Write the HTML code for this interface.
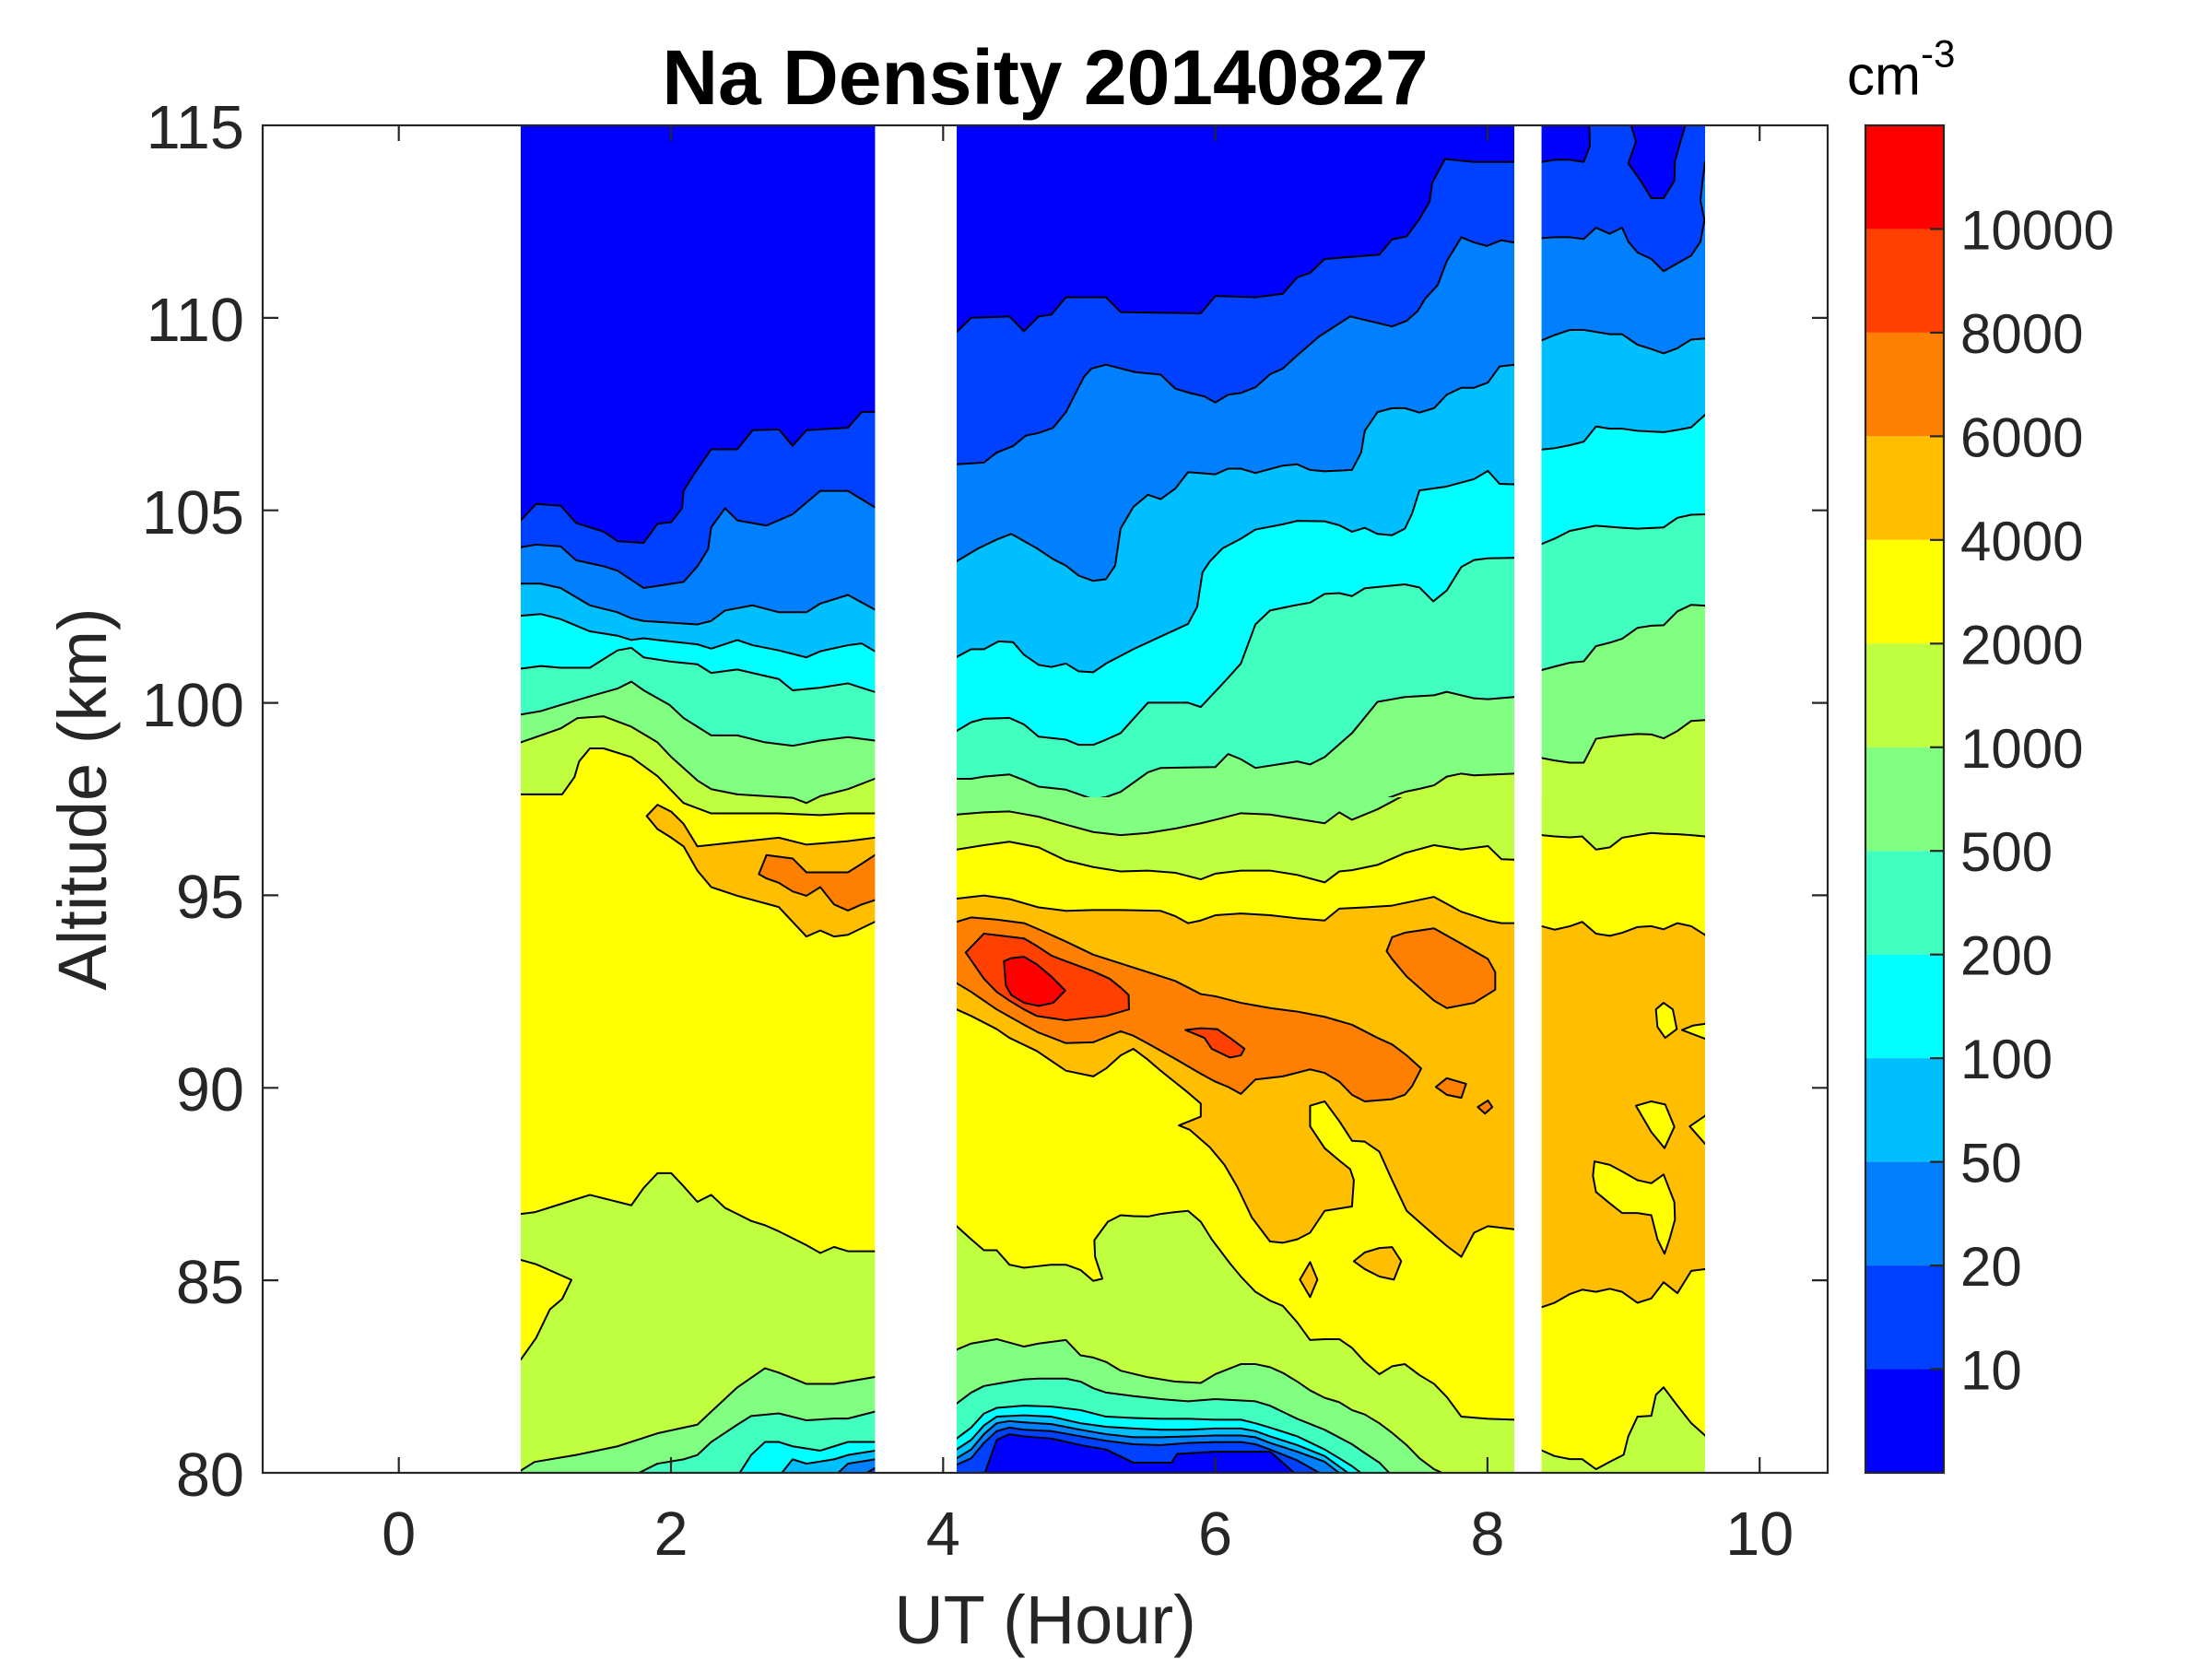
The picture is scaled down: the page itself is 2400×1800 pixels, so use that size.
<!DOCTYPE html>
<html><head><meta charset="utf-8">
<style>
html,body{margin:0;padding:0;background:#fff;width:2400px;height:1800px;overflow:hidden;}
svg{display:block;overflow:hidden;}
text{font-family:"Liberation Sans",Arial,Helvetica,sans-serif;}
</style></head>
<body>
<svg id="s" xmlns="http://www.w3.org/2000/svg" width="2400" height="1800" viewBox="0 0 2400 1800">
<rect width="2400" height="1800" fill="#fff"/>
<defs>
<clipPath id="cA"><rect x="565" y="136" width="384.3" height="1462"/></clipPath>
<clipPath id="cB1"><rect x="1038" y="136" width="605" height="730"/></clipPath>
<clipPath id="cB2"><rect x="1038" y="865" width="605" height="733"/></clipPath>
<clipPath id="cC1"><rect x="1672.7" y="136" width="177.3" height="730"/></clipPath>
<clipPath id="cC2"><rect x="1672.7" y="865" width="177.3" height="733"/></clipPath>
</defs>
<g id="data"></g>

<!-- axes box -->
<rect x="285" y="136" width="1698" height="1462" fill="none" stroke="#262626" stroke-width="2.2"/>
<g stroke="#262626" stroke-width="2.2">
<line x1="432.7" y1="1598" x2="432.7" y2="1581"/><line x1="728" y1="1598" x2="728" y2="1581"/><line x1="1023.3" y1="1598" x2="1023.3" y2="1581"/><line x1="1318.6" y1="1598" x2="1318.6" y2="1581"/><line x1="1613.9" y1="1598" x2="1613.9" y2="1581"/><line x1="1909.2" y1="1598" x2="1909.2" y2="1581"/>
<line x1="432.7" y1="136" x2="432.7" y2="153"/><line x1="728" y1="136" x2="728" y2="153"/><line x1="1023.3" y1="136" x2="1023.3" y2="153"/><line x1="1318.6" y1="136" x2="1318.6" y2="153"/><line x1="1613.9" y1="136" x2="1613.9" y2="153"/><line x1="1909.2" y1="136" x2="1909.2" y2="153"/>
<line x1="285" y1="1389.1" x2="302" y2="1389.1"/><line x1="285" y1="1180.3" x2="302" y2="1180.3"/><line x1="285" y1="971.4" x2="302" y2="971.4"/><line x1="285" y1="762.6" x2="302" y2="762.6"/><line x1="285" y1="553.7" x2="302" y2="553.7"/><line x1="285" y1="344.9" x2="302" y2="344.9"/>
<line x1="1983" y1="1389.1" x2="1966" y2="1389.1"/><line x1="1983" y1="1180.3" x2="1966" y2="1180.3"/><line x1="1983" y1="971.4" x2="1966" y2="971.4"/><line x1="1983" y1="762.6" x2="1966" y2="762.6"/><line x1="1983" y1="553.7" x2="1966" y2="553.7"/><line x1="1983" y1="344.9" x2="1966" y2="344.9"/>
</g>

<!-- tick labels -->
<g font-size="66.7" fill="#262626" text-anchor="end">
<text x="265" y="1623">80</text>
<text x="265" y="1414">85</text>
<text x="265" y="1205">90</text>
<text x="265" y="996">95</text>
<text x="265" y="788">100</text>
<text x="265" y="579">105</text>
<text x="265" y="370">110</text>
<text x="265" y="161">115</text>
</g>
<g font-size="66.7" fill="#262626" text-anchor="middle">
<text x="432.7" y="1687">0</text>
<text x="728" y="1687">2</text>
<text x="1023.3" y="1687">4</text>
<text x="1318.6" y="1687">6</text>
<text x="1613.9" y="1687">8</text>
<text x="1909.2" y="1687">10</text>
</g>
<text x="1134" y="1783" font-size="74" fill="#262626" text-anchor="middle">UT (Hour)</text>
<text transform="translate(115,867) rotate(-90)" font-size="74" fill="#262626" text-anchor="middle">Altitude (km)</text>
<text x="1134" y="113" font-size="84" font-weight="bold" fill="#000" text-anchor="middle">Na Density 20140827</text>

<!-- colorbar -->
<g>
<rect x="2024" y="136" width="85" height="112.46" fill="#FF0000"/>
<rect x="2024" y="248.46" width="85" height="112.46" fill="#FF4000"/>
<rect x="2024" y="360.92" width="85" height="112.46" fill="#FF8000"/>
<rect x="2024" y="473.38" width="85" height="112.47" fill="#FFBF00"/>
<rect x="2024" y="585.85" width="85" height="112.46" fill="#FFFF00"/>
<rect x="2024" y="698.31" width="85" height="112.46" fill="#BFFF40"/>
<rect x="2024" y="810.77" width="85" height="112.46" fill="#80FF80"/>
<rect x="2024" y="923.23" width="85" height="112.46" fill="#40FFBF"/>
<rect x="2024" y="1035.69" width="85" height="112.46" fill="#00FFFF"/>
<rect x="2024" y="1148.15" width="85" height="112.47" fill="#00BFFF"/>
<rect x="2024" y="1260.62" width="85" height="112.46" fill="#0080FF"/>
<rect x="2024" y="1373.08" width="85" height="112.46" fill="#0040FF"/>
<rect x="2024" y="1485.54" width="85" height="112.46" fill="#0000FF"/>
<rect x="2024" y="136" width="85" height="1462" fill="none" stroke="#262626" stroke-width="2.2"/>
<g stroke="#262626" stroke-width="2.2">
<line x1="2109" y1="248.46" x2="2094" y2="248.46"/><line x1="2109" y1="360.92" x2="2094" y2="360.92"/><line x1="2109" y1="473.38" x2="2094" y2="473.38"/><line x1="2109" y1="585.85" x2="2094" y2="585.85"/><line x1="2109" y1="698.31" x2="2094" y2="698.31"/><line x1="2109" y1="810.77" x2="2094" y2="810.77"/><line x1="2109" y1="923.23" x2="2094" y2="923.23"/><line x1="2109" y1="1035.69" x2="2094" y2="1035.69"/><line x1="2109" y1="1148.15" x2="2094" y2="1148.15"/><line x1="2109" y1="1260.62" x2="2094" y2="1260.62"/><line x1="2109" y1="1373.08" x2="2094" y2="1373.08"/><line x1="2109" y1="1485.54" x2="2094" y2="1485.54"/>
</g>
<g font-size="60" fill="#262626">
<text x="2127" y="270.5">10000</text>
<text x="2127" y="383">8000</text>
<text x="2127" y="495.4">6000</text>
<text x="2127" y="607.9">4000</text>
<text x="2127" y="720.3">2000</text>
<text x="2127" y="832.8">1000</text>
<text x="2127" y="945.2">500</text>
<text x="2127" y="1057.7">200</text>
<text x="2127" y="1170.2">100</text>
<text x="2127" y="1282.6">50</text>
<text x="2127" y="1395.1">20</text>
<text x="2127" y="1507.5">10</text>
</g>
<text x="2004" y="102.6" font-size="60" fill="#000">cm<tspan font-size="42" dy="-30">-3</tspan></text>
</g>
</svg>

<script>
(function(){
const C=['#0000FF','#0040FF','#0080FF','#00BFFF','#00FFFF','#40FFBF','#80FF80','#BFFF40','#FFFF00','#FFBF00','#FF8000','#FF4000','#FF0000'];
const NS='http://www.w3.org/2000/svg';
const root=document.getElementById('data');
function P(a){return a.map((p,i)=>(i?'L':'M')+p[0].toFixed(2)+' '+p[1].toFixed(2)).join(' ');}
function draw(G){
  const TOP=(120-G.ty)/G.sy, BOT=(1620-G.ty)/G.sy;
  const cl=v=>Math.max(TOP,Math.min(BOT,v));
  const outer=document.createElementNS(NS,'g');
  outer.setAttribute('clip-path','url(#'+G.clip+')');
  const bg=document.createElementNS(NS,'rect');
  bg.setAttribute('x',1000);bg.setAttribute('y',130);bg.setAttribute('width',10);bg.setAttribute('height',10);
  const bgr=document.createElementNS(NS,'rect');
  bgr.setAttribute('x',G.cx);bgr.setAttribute('y',G.cy);bgr.setAttribute('width',G.cw);bgr.setAttribute('height',G.ch);
  bgr.setAttribute('fill',C[G.base]);
  outer.appendChild(bgr);
  const g=document.createElementNS(NS,'g');
  g.setAttribute('transform','translate('+G.tx+' '+G.ty+') scale('+G.sx+' '+G.sy+')');
  outer.appendChild(g);
  const strokes=[];
  for(const L of G.L){
    const t=L[0], c=L[1];
    let pts=L[2].map(p=>[p[0],cl(p[1])]);
    let fd, sd;
    if(t==='c'){ fd=P(pts)+' Z'; sd=fd; }
    else{
      const f0=pts[0];
      if(f0[0]<=G.l+8) pts.unshift([G.l-30,f0[1]]);
      else if(f0[0]>=G.r-8) pts.unshift([G.r+30,f0[1]]);
      const lz=pts[pts.length-1];
      if(lz[0]<=G.l+8) pts.push([G.l-30,lz[1]]);
      else if(lz[0]>=G.r-8) pts.push([G.r+30,lz[1]]);
      const a=pts[0], b=pts[pts.length-1];
      if(t==='t') fd=P([[a[0],TOP]].concat(pts,[[b[0],TOP]]))+' Z';
      else if(t==='b') fd=P([[a[0],BOT]].concat(pts,[[b[0],BOT]]))+' Z';
      else fd=P(pts)+' Z';
      sd=P(pts);
    }
    const f=document.createElementNS(NS,'path');
    f.setAttribute('d',fd); f.setAttribute('fill',C[c]);
    g.appendChild(f);
    strokes.push(sd);
  }
  const s=document.createElementNS(NS,'path');
  s.setAttribute('d',strokes.join(' '));
  s.setAttribute('fill','none'); s.setAttribute('stroke','#000');
  s.setAttribute('stroke-width','2'); s.setAttribute('vector-effect','non-scaling-stroke');
  s.setAttribute('stroke-linejoin','round');
  g.appendChild(s);
  root.appendChild(outer);
}

/* Segment A */
draw({clip:'cA',cx:565,cy:136,cw:384.3,ch:1462,tx:560,ty:130,sx:0.333333,sy:0.940689,l:15,r:1168,base:8,L:[
['t',7,[[15,778],[150,778],[190,758],[205,740],[240,725],[285,725],[375,735],[460,757],[545,788],[635,800],[720,800],[855,800],[990,802],[1080,800],[1168,800]]],
['t',6,[[15,718],[80,710],[145,702],[200,690],[285,688],[375,700],[460,718],[505,735],[590,762],[635,772],[720,778],[810,780],[900,782],[945,788],[990,780],[1080,772],[1168,760]]],
['t',5,[[15,686],[80,682],[145,675],[240,665],[330,656],[375,648],[415,658],[500,675],[545,690],[635,710],[720,710],[810,718],[900,722],[990,716],[1080,712],[1168,716]]],
['t',4,[[15,633],[80,630],[145,632],[240,632],[330,612],[375,609],[415,620],[505,625],[590,628],[635,638],[720,634],[855,645],[900,658],[990,655],[1080,650],[1168,660]]],
['t',3,[[15,572],[80,570],[145,576],[240,590],[330,595],[375,600],[415,598],[460,600],[590,605],[635,610],[720,600],[770,606],[855,612],[945,620],[990,613],[1080,606],[1125,604],[1168,613]]],
['t',2,[[15,535],[80,535],[145,540],[240,560],[330,568],[375,575],[415,578],[590,582],[635,578],[680,566],[770,560],[855,568],[945,568],[990,558],[1080,548],[1168,565]]],
['t',1,[[15,493],[65,490],[145,492],[195,508],[285,515],[330,520],[415,540],[545,533],[590,515],[625,495],[635,470],[680,448],[720,462],[815,468],[900,455],[990,428],[1080,428],[1168,447]]],
['t',0,[[15,462],[65,443],[145,445],[195,465],[285,475],[330,486],[415,488],[460,466],[505,464],[540,448],[545,428],[580,408],[635,380],[720,380],[770,358],[855,357],[900,376],[945,358],[1080,355],[1125,337],[1168,337]]],
['e',9,[[1168,925],[1080,940],[1035,942],[990,935],[945,942],[900,925],[855,908],[720,895],[635,885],[590,866],[545,838],[505,828],[460,818],[425,803],[460,790],[505,798],[545,812],[590,838],[720,833],[855,828],[945,836],[1080,832],[1168,828]]],
['e',10,[[1168,900],[1125,905],[1080,912],[1035,905],[990,885],[945,895],[900,890],[855,880],[815,875],[790,870],[815,848],[900,852],[945,868],[1080,868],[1125,858],[1168,848]]],
['b',7,[[15,1262],[60,1260],[150,1250],[240,1240],[375,1252],[415,1232],[460,1215],[505,1215],[545,1230],[590,1248],[635,1240],[680,1255],[720,1262],[765,1270],[810,1275],[855,1282],[945,1298],[990,1307],[1035,1300],[1080,1305],[1168,1305]]],
['e',8,[[15,1315],[65,1320],[180,1338],[150,1360],[110,1372],[65,1405],[15,1430]]],
['b',6,[[15,1558],[60,1548],[195,1540],[330,1530],[460,1515],[590,1505],[635,1490],[720,1462],[810,1440],[855,1445],[945,1458],[1035,1458],[1168,1450]]],
['b',5,[[375,1565],[460,1550],[545,1545],[590,1540],[635,1525],[720,1505],[765,1495],[855,1492],[945,1500],[1035,1498],[1080,1498],[1168,1490]]],
['b',4,[[720,1565],[765,1540],[810,1525],[855,1525],[900,1530],[990,1535],[1035,1530],[1080,1525],[1168,1525]]],
['b',3,[[855,1565],[900,1545],[945,1550],[1035,1545],[1080,1540],[1168,1535]]],
['b',2,[[1035,1565],[1080,1550],[1168,1545]]],
['b',1,[[1120,1565],[1168,1555]]]
]});

/* Segment B upper */
draw({clip:'cB1',cx:1038,cy:136,cw:605,ch:730,tx:1030,ty:130,sx:0.395408,sy:0.471939,l:20,r:1550,base:7,L:[
['t',6,[[20,1750],[1100,1750],[1175,1568],[1250,1545],[1290,1538],[1330,1530],[1365,1510],[1405,1503],[1440,1507],[1550,1503]]],
['t',5,[[20,1515],[60,1515],[95,1510],[165,1505],[205,1518],[245,1533],[320,1540],[395,1562],[430,1557],[470,1545],[545,1500],[580,1490],[730,1488],[765,1458],[800,1470],[840,1490],[955,1475],[990,1482],[1030,1465],[1105,1410],[1175,1338],[1250,1327],[1330,1323],[1365,1315],[1440,1330],[1478,1332],[1550,1327]]],
['t',4,[[20,1405],[60,1385],[95,1377],[165,1375],[205,1390],[245,1418],[320,1425],[355,1437],[395,1437],[430,1425],[470,1410],[545,1340],[655,1340],[690,1350],[755,1292],[800,1250],[840,1160],[880,1128],[955,1115],[990,1110],[1030,1090],[1070,1088],[1105,1095],[1140,1077],[1250,1068],[1290,1075],[1328,1107],[1365,1082],[1405,1028],[1440,1012],[1478,1008],[1550,1007]]],
['t',3,[[20,1235],[60,1217],[95,1217],[135,1199],[175,1201],[205,1230],[245,1253],[280,1258],[320,1250],[355,1268],[395,1270],[430,1250],[505,1217],[655,1159],[680,1120],[695,1040],[715,1015],[750,985],[800,963],[840,942],[915,930],[955,922],[1030,923],[1070,932],[1105,947],[1140,938],[1175,952],[1215,955],[1250,940],[1270,905],[1290,852],[1365,843],[1440,826],[1478,807],[1510,837],[1550,838]]],
['t',2,[[20,1015],[80,985],[130,965],[170,952],[240,985],[285,1010],[320,1025],[355,1048],[395,1060],[430,1056],[455,1025],[470,940],[505,890],[545,862],[580,872],[620,848],[655,810],[730,815],[765,802],[800,802],[840,812],[915,795],[955,792],[990,805],[1030,808],[1105,805],[1130,765],[1140,715],[1175,672],[1215,663],[1250,663],[1290,673],[1330,663],[1365,632],[1405,616],[1440,616],[1478,604],[1510,567],[1550,563]]],
['t',1,[[20,792],[95,788],[130,765],[175,750],[210,726],[245,720],[285,708],[320,672],[370,590],[390,572],[430,563],[510,580],[580,586],[620,618],[660,628],[700,636],[730,650],[765,632],[800,628],[840,615],[880,585],[915,572],[950,545],[1015,498],[1100,452],[1150,462],[1215,475],[1255,462],[1285,440],[1305,412],[1340,380],[1365,325],[1405,270],[1440,282],[1475,290],[1515,277],[1550,282]]],
['t',0,[[20,488],[60,455],[165,452],[205,486],[245,452],[280,448],[320,408],[430,408],[470,442],[690,445],[730,405],[840,408],[915,400],[955,362],[990,352],[1030,320],[1180,310],[1215,275],[1255,268],[1290,228],[1318,188],[1325,145],[1360,90],[1440,97],[1550,97]]]
]});

/* Segment B lower */
draw({clip:'cB2',cx:1038,cy:865,cw:605,ch:733,tx:1030,ty:860,sx:0.395408,sy:0.475128,l:20,r:1550,base:6,L:[
['b',7,[[20,50],[95,45],[165,43],[245,55],[320,73],[395,90],[470,97],[545,92],[620,82],[690,70],[730,62],[800,47],[880,50],[955,60],[1030,70],[1070,45],[1105,62],[1175,38],[1250,5],[1300,-30],[1550,-30]]],
['b',8,[[20,130],[95,120],[165,112],[245,125],[320,155],[395,170],[470,180],[545,178],[620,183],[690,198],[730,185],[800,178],[880,178],[955,188],[1030,205],[1070,180],[1105,177],[1175,165],[1250,138],[1330,120],[1405,130],[1478,122],[1515,152],[1550,153]]],
['b',9,[[20,242],[95,235],[165,243],[245,262],[320,270],[395,268],[470,268],[580,270],[620,282],[655,298],[690,292],[730,280],[800,276],[880,280],[955,287],[1030,292],[1070,265],[1140,262],[1215,258],[1330,238],[1405,272],[1478,292],[1515,298],[1550,298]]],
['b',8,[[20,495],[60,510],[130,540],[165,560],[240,590],[320,635],[395,648],[430,630],[470,600],[505,585],[545,610],[580,635],[655,685],[690,710],[690,740],[630,760],[660,770],[715,810],[755,850],[790,900],[830,970],[880,1025],[915,1028],[955,1020],[990,1005],[1030,955],[1105,945],[1110,885],[1100,860],[1070,840],[1030,812],[990,762],[990,715],[1030,705],[1070,750],[1105,795],[1140,797],[1180,820],[1215,885],[1255,955],[1330,1010],[1365,1035],[1405,1060],[1440,1005],[1478,990],[1550,997]]],
['e',10,[[20,295],[60,285],[130,290],[205,298],[245,312],[320,340],[395,370],[470,390],[545,410],[620,430],[690,460],[730,465],[800,480],[880,492],[955,500],[1030,512],[1105,530],[1175,560],[1215,575],[1255,600],[1295,630],[1270,670],[1250,690],[1215,700],[1140,705],[1105,690],[1070,660],[1030,640],[990,632],[915,648],[840,655],[800,688],[765,672],[730,660],[690,642],[620,608],[545,573],[505,555],[470,545],[395,570],[320,572],[245,548],[205,530],[130,495],[60,455],[20,435]]],
['c',10,[[1215,330],[1250,320],[1330,310],[1405,345],[1478,380],[1498,410],[1498,450],[1440,480],[1365,492],[1330,475],[1255,420],[1215,380],[1200,362]]],
['c',10,[[1335,672],[1365,652],[1418,665],[1405,697],[1365,690]]],
['c',10,[[1450,718],[1478,703],[1490,718],[1470,733]]],
['c',11,[[45,365],[95,322],[205,333],[240,350],[280,372],[320,385],[395,408],[440,425],[470,445],[492,462],[493,495],[430,510],[320,520],[240,510],[205,495],[165,475],[130,455],[95,425]]],
['c',11,[[648,542],[690,538],[735,540],[770,560],[810,585],[800,600],[770,605],[720,585],[700,560]]],
['c',12,[[150,385],[170,378],[205,375],[240,392],[280,420],[318,452],[285,480],[245,487],[205,480],[170,462],[155,440]]],
['c',9,[[1110,1070],[1140,1050],[1180,1040],[1215,1038],[1240,1070],[1220,1112],[1180,1105],[1140,1088]]],
['c',9,[[990,1072],[1010,1112],[990,1152],[962,1112]]],
['b',7,[[20,990],[60,1020],[95,1045],[130,1045],[165,1078],[205,1085],[280,1078],[320,1078],[360,1090],[395,1115],[420,1110],[400,1060],[398,1022],[435,980],[470,965],[505,967],[545,968],[580,962],[620,958],[655,955],[690,980],[720,1020],[770,1075],[800,1105],[840,1140],[880,1160],[915,1172],[955,1210],[990,1250],[1030,1248],[1070,1248],[1105,1268],[1140,1300],[1180,1328],[1215,1310],[1250,1305],[1290,1330],[1330,1350],[1365,1380],[1405,1425],[1478,1430],[1550,1432]]],
['b',6,[[20,1272],[60,1258],[130,1248],[205,1265],[245,1258],[320,1250],[360,1285],[395,1290],[430,1300],[470,1320],[545,1335],[620,1345],[690,1348],[730,1328],[800,1305],[840,1305],[880,1312],[915,1325],[955,1345],[990,1365],[1030,1382],[1070,1392],[1105,1410],[1140,1420],[1180,1440],[1215,1462],[1255,1490],[1290,1520],[1330,1545],[1370,1560]]],
['b',5,[[20,1395],[60,1370],[95,1355],[165,1345],[205,1340],[245,1338],[320,1338],[360,1345],[395,1360],[430,1370],[505,1378],[580,1385],[655,1390],[730,1385],[800,1388],[840,1390],[880,1400],[955,1430],[1030,1455],[1105,1488],[1140,1508],[1180,1530],[1215,1560]]],
['b',4,[[20,1475],[60,1450],[95,1418],[130,1405],[205,1400],[280,1402],[360,1410],[430,1425],[505,1428],[580,1430],[655,1430],[730,1432],[800,1432],[840,1440],[880,1450],[955,1470],[1030,1500],[1070,1520],[1105,1538],[1140,1560]]],
['b',3,[[20,1500],[60,1478],[95,1445],[130,1425],[205,1422],[280,1425],[360,1440],[430,1448],[505,1452],[580,1455],[655,1455],[730,1452],[800,1452],[840,1458],[880,1470],[955,1490],[1030,1515],[1105,1560]]],
['b',2,[[20,1520],[60,1500],[95,1465],[130,1440],[165,1435],[205,1438],[280,1442],[360,1455],[430,1465],[505,1472],[580,1472],[655,1470],[730,1468],[800,1468],[840,1472],[880,1485],[955,1505],[1030,1528],[1080,1560]]],
['b',1,[[20,1535],[60,1520],[95,1485],[130,1458],[165,1450],[205,1455],[280,1458],[360,1470],[430,1480],[505,1488],[580,1490],[655,1485],[730,1483],[800,1483],[840,1488],[880,1500],[955,1525],[1030,1560]]],
['b',0,[[95,1560],[130,1478],[165,1465],[205,1470],[280,1475],[360,1490],[430,1500],[505,1530],[610,1530],[625,1510],[730,1505],[800,1505],[880,1505],[915,1530],[955,1560]]]
]});

/* Segment C upper */
draw({clip:'cC1',cx:1672.7,cy:136,cw:177.3,ch:730,tx:1660,ty:130,sx:0.333333,sy:0.471939,l:38,r:570,base:7,L:[
['t',6,[[38,1467],[80,1473],[130,1478],[175,1478],[215,1423],[260,1418],[300,1415],[350,1412],[395,1413],[435,1422],[480,1405],[525,1382],[570,1380]]],
['t',5,[[38,1265],[80,1257],[130,1248],[175,1245],[215,1210],[260,1202],[300,1193],[350,1168],[395,1163],[435,1162],[480,1130],[525,1115],[570,1117]]],
['t',4,[[38,975],[80,963],[130,945],[215,933],[300,938],[350,940],[435,937],[480,915],[525,908],[570,907]]],
['t',3,[[38,758],[80,755],[130,748],[175,740],[215,705],[260,710],[300,710],[350,715],[435,718],[480,713],[525,707],[570,678]]],
['t',2,[[38,507],[80,495],[130,483],[175,483],[260,493],[300,493],[350,517],[395,527],[435,537],[480,525],[525,505],[570,503]]],
['t',1,[[38,272],[80,270],[130,270],[175,274],[215,248],[260,262],[300,248],[320,280],[350,305],[395,320],[435,348],[480,330],[525,312],[555,280],[568,230],[555,185],[562,140],[570,97]]],
['t',0,[[38,97],[80,92],[130,92],[175,97],[195,60],[192,-10]]],
['t',0,[[320,-10],[345,50],[320,100],[360,140],[395,180],[435,180],[470,140],[472,95],[490,50],[515,-10]]]
]});

/* Segment C lower */
draw({clip:'cC2',cx:1672.7,cy:865,cw:177.3,ch:733,tx:1660,ty:860,sx:0.333333,sy:0.475128,l:38,r:570,base:8,L:[
['t',7,[[38,97],[80,100],[130,102],[170,100],[215,130],[260,125],[300,103],[350,97],[395,92],[435,94],[480,95],[525,97],[570,100]]],
['b',9,[[38,305],[80,313],[130,305],[170,295],[215,322],[260,327],[300,320],[350,307],[395,305],[435,312],[480,298],[525,305],[570,325]]],
['b',8,[[38,1175],[80,1165],[130,1145],[170,1135],[215,1140],[260,1133],[300,1140],[350,1165],[395,1155],[435,1118],[480,1143],[525,1092],[570,1088]]],
['c',8,[[410,495],[435,480],[465,495],[478,540],[440,560],[415,535]]],
['e',8,[[570,528],[530,532],[495,542],[570,562]]],
['c',8,[[345,715],[395,705],[440,712],[470,763],[438,812],[395,775]]],
['e',8,[[570,738],[520,762],[570,802]]],
['c',8,[[210,842],[260,850],[300,865],[350,885],[395,892],[435,872],[470,935],[472,975],[455,1018],[438,1053],[415,1020],[395,965],[350,960],[300,960],[260,938],[215,912],[205,875]]],
['b',7,[[38,1502],[80,1515],[130,1522],[170,1522],[215,1545],[260,1528],[305,1512],[320,1470],[350,1425],[395,1423],[410,1375],[435,1358],[480,1400],[525,1440],[570,1468]]]
]});
})();
</script>
</body></html>
